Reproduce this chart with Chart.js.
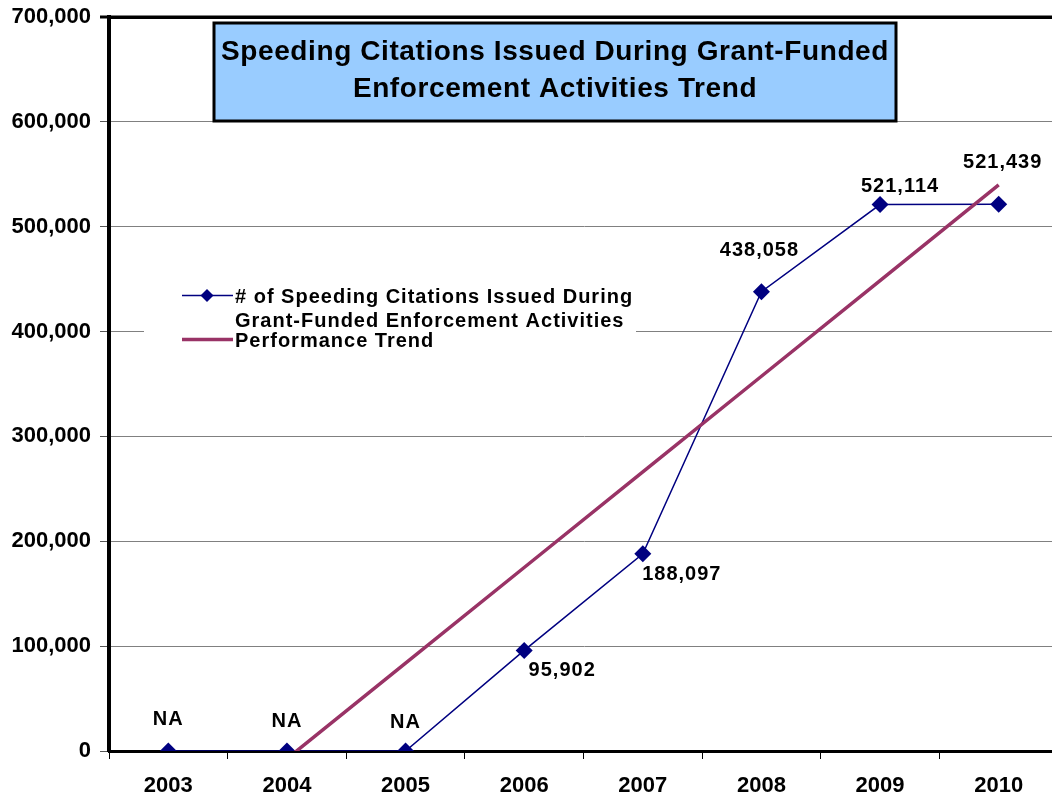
<!DOCTYPE html>
<html>
<head>
<meta charset="utf-8">
<script src="https://cdn.jsdelivr.net/npm/chart.js@4"></script>
<style>
  html, body { margin: 0; padding: 0; background: #fff; overflow: hidden; }
  #wrap { width: 1064px; height: 797px; }
</style>
</head>
<body>
<div id="wrap"><canvas id="c" width="1064" height="797"></canvas></div>
<script>
// ---- data ----
const years = ['2003', '2004', '2005', '2006', '2007', '2008', '2009', '2010'];
const citations = [0, 0, 0, 95902, 188097, 438058, 521114, 521439];
const trend = [null, -7400, 83800, 175000, 266200, 357400, 448600, 539800];
const pointLabels = ['NA', 'NA', 'NA', '95,902', '188,097', '438,058', '521,114', '521,439'];
const yTicks = [0, 100000, 200000, 300000, 400000, 500000, 600000, 700000];
const titleLines = ['Speeding Citations Issued During Grant-Funded', 'Enforcement Activities Trend'];
const seriesNames = ['# of Speeding Citations Issued During Grant-Funded Enforcement Activities', 'Performance Trend'];
const legendLines = [['# of Speeding Citations Issued During', 'Grant-Funded Enforcement Activities'], ['Performance Trend']];

// ---- layout / style (kept apart from data) ----
const FONT = '"Liberation Sans", Arial, Helvetica, sans-serif';
const NAVY = '#000080';
const MAROON = '#993366';
const labelOffsets = [[0, -32], [0, -30], [0, -29], [38, 20], [39, 21], [-2, -41], [20, -18], [4, -42]];

const overlayPlugin = {
  id: 'overlay',
  afterDraw(chart) {
    const ctx = chart.ctx;
    const area = chart.chartArea;
    ctx.save();
    // top border of plot area
    ctx.strokeStyle = '#000';
    ctx.lineWidth = 3;
    ctx.beginPath();
    ctx.moveTo(area.left - 9, area.top);
    ctx.lineTo(area.right + 10, area.top);
    ctx.stroke();

    // data labels
    const meta = chart.getDatasetMeta(0);
    ctx.fillStyle = '#000';
    ctx.font = 'bold 20px ' + FONT;
    ctx.letterSpacing = '1px';
    ctx.textAlign = 'center';
    ctx.textBaseline = 'middle';
    meta.data.forEach((pt, i) => {
      const o = labelOffsets[i];
      ctx.fillText(pointLabels[i], pt.x + o[0], pt.y + o[1]);
    });

    // title box
    ctx.letterSpacing = '0px';
    const bx = 214, by = 23, bw = 682, bh = 98;
    ctx.fillStyle = '#99CCFF';
    ctx.fillRect(bx, by, bw, bh);
    ctx.strokeStyle = '#000';
    ctx.lineWidth = 3;
    ctx.strokeRect(bx, by, bw, bh);
    ctx.fillStyle = '#000';
    ctx.font = 'bold 28px ' + FONT;
    ctx.letterSpacing = '0.6px';
    ctx.textAlign = 'center';
    ctx.fillText(titleLines[0], bx + bw / 2, 52);
    ctx.fillText(titleLines[1], bx + bw / 2, 89);

    // legend
    ctx.letterSpacing = '0px';
    ctx.fillStyle = '#fff';
    ctx.fillRect(144, 282, 492, 72);
    // entry 1
    ctx.strokeStyle = NAVY;
    ctx.lineWidth = 1.5;
    ctx.beginPath();
    ctx.moveTo(182, 295.5);
    ctx.lineTo(233, 295.5);
    ctx.stroke();
    ctx.fillStyle = NAVY;
    ctx.beginPath();
    ctx.moveTo(207, 289); ctx.lineTo(213.5, 295.5); ctx.lineTo(207, 302); ctx.lineTo(200.5, 295.5);
    ctx.closePath();
    ctx.fill();
    // entry 2
    ctx.strokeStyle = MAROON;
    ctx.lineWidth = 3.5;
    ctx.beginPath();
    ctx.moveTo(182, 339.5);
    ctx.lineTo(233, 339.5);
    ctx.stroke();
    ctx.fillStyle = '#000';
    ctx.font = 'bold 20px ' + FONT;
    ctx.letterSpacing = '1px';
    ctx.textAlign = 'left';
    ctx.fillText(legendLines[0][0], 235, 297);
    ctx.fillText(legendLines[0][1], 235, 321);
    ctx.fillText(legendLines[1][0], 235, 341);
    ctx.restore();
  }
};

new Chart(document.getElementById('c'), {
  type: 'line',
  data: {
    labels: years,
    datasets: [
      {
        label: seriesNames[0],
        data: citations,
        borderColor: NAVY,
        backgroundColor: NAVY,
        borderWidth: 1.5,
        pointStyle: 'rectRot',
        pointRadius: 8.5,
        pointBorderWidth: 0,
        pointBackgroundColor: NAVY,
        tension: 0,
        order: 1
      },
      {
        label: seriesNames[1],
        data: trend,
        borderColor: MAROON,
        borderWidth: 3.5,
        pointRadius: 0,
        tension: 0,
        order: 0
      }
    ]
  },
  options: {
    responsive: false,
    animation: false,
    devicePixelRatio: 1,
    layout: { autoPadding: false, padding: { top: 17, right: 6, left: 0, bottom: 0 } },
    plugins: {
      legend: { display: false },
      title: { display: false },
      tooltip: { enabled: false }
    },
    scales: {
      x: {
        offset: true,
        grid: {
          offset: true,
          drawOnChartArea: false,
          drawTicks: true,
          tickLength: 8,
          tickColor: '#000',
          tickWidth: 1
        },
        border: { display: true, color: '#000', width: 3 },
        ticks: {
          color: '#000',
          font: { family: FONT, size: 22, weight: 'bold' },
          padding: 14,
          maxRotation: 0,
          autoSkip: false
        },
        afterFit(s) { s.height = 46; s.paddingLeft = 0; s.paddingRight = 0; }
      },
      y: {
        min: 0,
        max: 700000,
        afterBuildTicks(s) { s.ticks = yTicks.map(v => ({ value: v })); },
        ticks: {
          color: '#000',
          font: { family: FONT, size: 22, weight: 'bold' },
          padding: 9,
          callback: v => v.toLocaleString('en-US')
        },
        grid: {
          color: c => (c.tick && c.tick.value === 700000) ? '#000' : '#808080',
          lineWidth: c => (c.tick && c.tick.value === 700000) ? 3 : 1,
          tickColor: '#555',
          tickLength: 9,
          tickWidth: 1
        },
        border: { display: true, color: '#000', width: 4 },
        afterFit(s) { s.width = 109; s.paddingTop = 0; s.paddingBottom = 0; }
      }
    }
  },
  plugins: [overlayPlugin]
});
</script>
</body>
</html>
